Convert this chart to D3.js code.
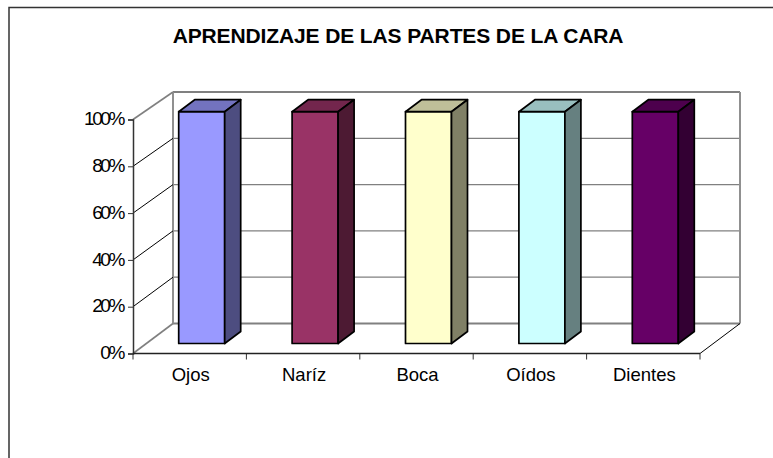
<!DOCTYPE html>
<html>
<head>
<meta charset="utf-8">
<script src="https://cdn.jsdelivr.net/npm/d3@7"></script>
<style>
  html, body { margin: 0; padding: 0; background: #fff; overflow: hidden; }
  svg { display: block; }
  text { font-family: "Liberation Sans", Arial, sans-serif; fill: #000; }
</style>
</head>
<body>
<div id="chart"></div>
<script>
const title = "APRENDIZAJE DE LAS PARTES DE LA CARA";
const categories = ["Ojos", "Naríz", "Boca", "Oídos", "Dientes"];
const values = [100, 100, 100, 100, 100];
const tickValues = [0, 20, 40, 60, 80, 100];
const frontColors = ["#9999ff", "#993366", "#ffffcc", "#ccffff", "#660066"];

const width = 773, height = 458;

// 3d offsets of the fake excel box
const wallDx = 40;
const barDx = 16, barDy = -12;
const barOffX = 12;
const barWidth = 46;

const svg = d3.select("#chart").append("svg")
  .attr("width", width)
  .attr("height", height);

const x = d3.scaleBand().domain(categories).range([133, 700]);
const y = d3.scaleLinear().domain([0, 100]).range([353.5, 119.5]);
// back wall and bar front planes sit at their own depth
const yWall = d3.scaleLinear().domain([0, 100]).range([323.5, 92]);
const yBar = d3.scaleLinear().domain([0, 100]).range([343.5, 111.7]);

// chart frame, only top and left are visible in the crop
svg.append("path")
  .attr("d", "M9,458V7.5H773")
  .attr("fill", "none")
  .attr("stroke", "#333")
  .attr("stroke-width", 1.5);

svg.append("text")
  .attr("x", 398)
  .attr("y", 43)
  .attr("text-anchor", "middle")
  .style("font-size", "21px")
  .style("font-weight", "bold")
  .style("letter-spacing", "-0.12px")
  .text(title);

// back wall and floor
const x0 = x.range()[0], x1 = x.range()[1];
const wall = svg.append("g");

wall.selectAll(".grid")
  .data(tickValues)
  .join("line")
  .attr("class", "grid")
  .attr("x1", x0 + wallDx).attr("x2", x1 + wallDx)
  .attr("y1", (d) => yWall(d))
  .attr("y2", (d) => yWall(d))
  .attr("stroke", "#808080")
  .attr("stroke-width", (d) => (d === 0 || d === 100 ? 2 : 1.3));

wall.append("path")
  .attr("d", `M${x0 + wallDx},${yWall(0)}V${yWall(100)}M${x1 + wallDx},${yWall(100)}V${yWall(0)}`)
  .attr("fill", "none")
  .attr("stroke", "#909090")
  .attr("stroke-width", 2);

// diagonals from the axis to the wall
wall.selectAll(".diag")
  .data(tickValues)
  .join("line")
  .attr("class", "diag")
  .attr("x1", x0).attr("x2", x0 + wallDx)
  .attr("y1", (d) => y(d))
  .attr("y2", (d) => yWall(d))
  .attr("stroke", (d) => (d === 0 || d === 100 ? "#808080" : "#000"))
  .attr("stroke-width", (d) => (d === 0 || d === 100 ? 1.6 : 1));

wall.append("line")
  .attr("x1", x1).attr("x2", x1 + wallDx)
  .attr("y1", y(0)).attr("y2", yWall(0))
  .attr("stroke", "#000");

// bars
const bars = svg.selectAll(".bar")
  .data(categories.map((c, i) => ({ c, v: values[i], color: frontColors[i] })))
  .join("g")
  .attr("class", "bar")
  .attr("stroke", "#000")
  .attr("stroke-width", 1.7)
  .attr("stroke-linejoin", "round");

const left = (d) => x(d.c) + x.bandwidth() / 2 + barOffX - barWidth / 2;

function shade(color, k) {
  const c = d3.rgb(color);
  return d3.rgb(c.r * k, c.g * k, c.b * k).formatHex();
}

bars.append("path")
  .attr("fill", (d) => d.color)
  .attr("d", (d) => `M${left(d)},${yBar(d.v)}h${barWidth}V${yBar(0)}h${-barWidth}Z`);

bars.append("path")
  .attr("fill", (d) => shade(d.color, 0.75))
  .attr("d", (d) => `M${left(d)},${yBar(d.v)}l${barDx},${barDy}h${barWidth}l${-barDx},${-barDy}Z`);

bars.append("path")
  .attr("fill", (d) => shade(d.color, 0.5))
  .attr("d", (d) => `M${left(d) + barWidth},${yBar(d.v)}l${barDx},${barDy}V${yBar(0) + barDy}l${-barDx},${-barDy}Z`);

// axes
const yAxis = d3.axisLeft(y)
  .tickValues(tickValues)
  .tickFormat((d) => d + "%")
  .tickSize(5)
  .tickPadding(5);
const yG = svg.append("g").attr("transform", `translate(${x0},0)`).call(yAxis);
yG.selectAll("path").attr("stroke", "#333").attr("stroke-width", 1.5);
yG.selectAll("line").attr("stroke", "#333");
yG.selectAll("text")
  .attr("dy", "0.27em")
  .style("font-size", "19px")
  .style("letter-spacing", "-2.4px");

const xAxis = d3.axisBottom(x).tickSize(0).tickPadding(14);
const xG = svg.append("g").attr("transform", `translate(1,${y(0)})`).call(xAxis);
xG.select("path").remove();
xG.selectAll("text").style("font-size", "18.5px");

// category separators sit between the bands
svg.selectAll(".xtick")
  .data(d3.range(categories.length + 1))
  .join("line")
  .attr("class", "xtick")
  .attr("x1", (i) => x0 + i * x.step())
  .attr("x2", (i) => x0 + i * x.step())
  .attr("y1", y(0))
  .attr("y2", y(0) + 6)
  .attr("stroke", "#333");
svg.append("line")
  .attr("x1", x0).attr("x2", x1)
  .attr("y1", y(0)).attr("y2", y(0))
  .attr("stroke", "#222")
  .attr("stroke-width", 1.5);
</script>
</body>
</html>
